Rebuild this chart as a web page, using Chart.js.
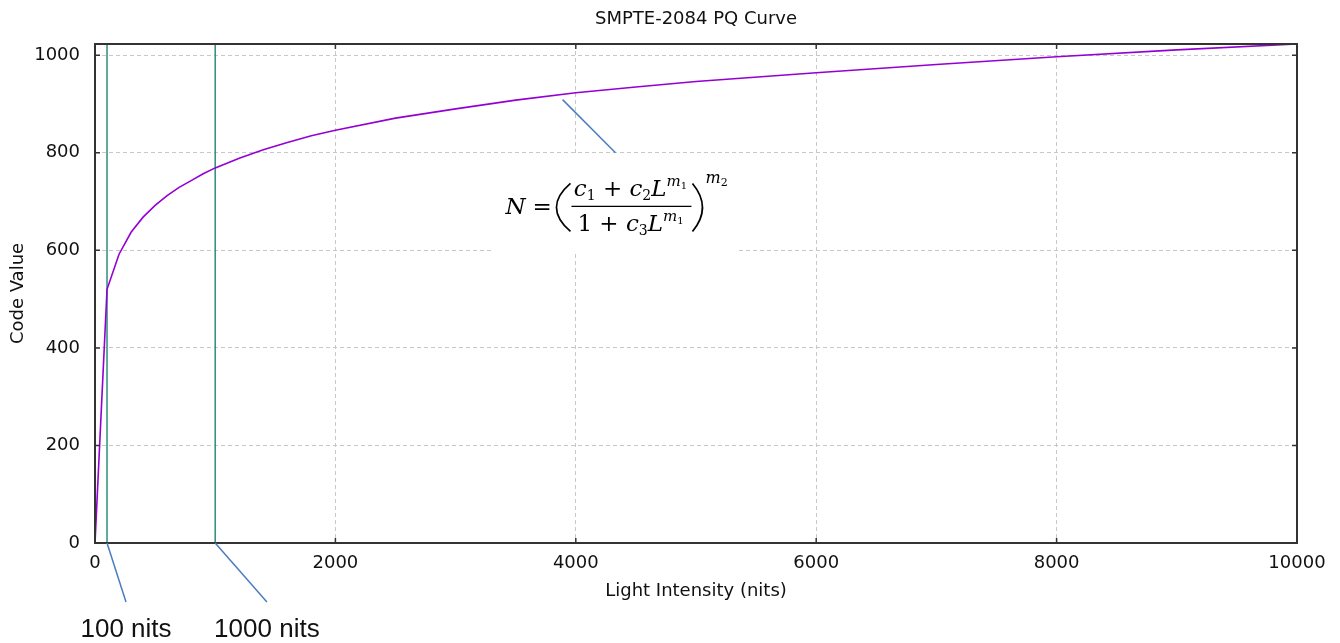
<!DOCTYPE html>
<html>
<head>
<meta charset="utf-8">
<script src="https://cdn.jsdelivr.net/npm/chart.js@4/dist/chart.umd.min.js"></script>
<style>
  body { margin: 0; background: #fff; }
  canvas { display: block; }
</style>
</head>
<body>
<canvas id="pqChart" width="1340" height="643"></canvas>
<script>
// PQ curve samples (nits -> 10-bit code value)
const nits = [0, 100, 200, 300, 400, 500, 600, 700, 800, 900, 1000, 1200, 1400, 1600, 1800,
  2000, 2500, 3000, 3500, 4000, 4500, 5000, 6000, 7000, 8000, 9000, 10000];
const codeValues = [0, 520, 592, 637, 668, 692, 712, 729, 743, 757, 769, 789, 806, 821, 835,
  846, 871, 890, 908, 923, 935, 946, 964, 981, 997, 1011, 1023];

// axis ticks
const xTicks = [0, 2000, 4000, 6000, 8000, 10000];
const yTicks = [0, 200, 400, 600, 800, 1000];

// reference luminance markers
const markerNits = [100, 1000];
const markerLabels = ['100 nits', '1000 nits'];

// callout leader lines, in data units [x, y]
const leaderFrom = [[3890, 909], [100, 0], [1000, 0]];
const leaderTo = [[4330, 800], [258, -121], [1430, -121]];

// equation anchor (data units)
const eqAnchor = [4330, 690];

const fontUI = '"DejaVu Sans", Tahoma, sans-serif';
Chart.defaults.color = '#111';
Chart.defaults.font.family = fontUI;

const curvePoints = nits.map((n, i) => ({ x: n, y: codeValues[i] }));
const markerSets = markerNits.map(n => ({
  data: [{ x: n, y: 0 }, { x: n, y: 1023 }],
  borderColor: '#2b8f78',
  borderWidth: 1.5,
  pointRadius: 0
}));

const mathFont = '"DejaVu Serif", "Liberation Serif", serif';

function drawRuns(ctx, parts, x, y, measureOnly) {
  let w = 0;
  for (const [txt, size, style, dy] of parts) {
    ctx.font = style + ' ' + size + 'px ' + mathFont;
    if (!measureOnly) ctx.fillText(txt, x + w, y + dy);
    w += ctx.measureText(txt).width;
  }
  return w;
}

const numer = [['c', 23, 'italic', 0], ['1', 14, 'normal', 4], [' + ', 23, 'normal', 0],
  ['c', 23, 'italic', 0], ['2', 14, 'normal', 4], ['L', 23, 'italic', 0],
  ['m', 15, 'italic', -10], ['1', 10, 'normal', -7]];
const denom = [['1', 23, 'normal', 0], [' + ', 23, 'normal', 0], ['c', 23, 'italic', 0],
  ['3', 14, 'normal', 4], ['L', 23, 'italic', 0], ['m', 15, 'italic', -10], ['1', 10, 'normal', -7]];
const expo = [['m', 16, 'italic', 0], ['2', 11, 'normal', 3]];

function paren(ctx, x0, xm, ax, ay) {
  ctx.beginPath();
  ctx.moveTo(ax + x0, ay - 23);
  ctx.quadraticCurveTo(ax + 2 * xm - x0, ay + 1, ax + x0, ay + 25);
  ctx.stroke();
}

const extrasPlugin = {
  id: 'extras',
  afterDatasetsDraw(chart) {
    const { ctx, chartArea: a, scales: { x, y } } = chart;
    ctx.save();

    // frame with inward ticks
    ctx.strokeStyle = '#333';
    ctx.lineWidth = 2;
    ctx.strokeRect(a.left, a.top, a.right - a.left, a.bottom - a.top);
    ctx.lineWidth = 1.5;
    ctx.beginPath();
    xTicks.forEach(v => {
      const px = x.getPixelForValue(v);
      ctx.moveTo(px, a.top); ctx.lineTo(px, a.top + 5);
      ctx.moveTo(px, a.bottom); ctx.lineTo(px, a.bottom - 5);
    });
    yTicks.forEach(v => {
      const py = y.getPixelForValue(v);
      ctx.moveTo(a.left, py); ctx.lineTo(a.left + 5, py);
      ctx.moveTo(a.right, py); ctx.lineTo(a.right - 5, py);
    });
    ctx.stroke();

    // leader lines
    ctx.strokeStyle = '#4a7cc0';
    ctx.lineWidth = 1.5;
    leaderFrom.forEach((f, i) => {
      const t = leaderTo[i];
      ctx.beginPath();
      ctx.moveTo(x.getPixelForValue(f[0]), y.getPixelForValue(f[1]));
      ctx.lineTo(x.getPixelForValue(t[0]), y.getPixelForValue(t[1]));
      ctx.stroke();
    });

    // marker labels under the leaders
    ctx.fillStyle = '#111';
    ctx.font = '26px "Liberation Sans", Arial, sans-serif';
    ctx.textAlign = 'center';
    ctx.textBaseline = 'middle';
    markerLabels.forEach((lbl, i) => {
      const t = leaderTo[i + 1];
      ctx.fillText(lbl, x.getPixelForValue(t[0]), y.getPixelForValue(t[1]) + 28);
    });

    // equation box
    const ax = x.getPixelForValue(eqAnchor[0]);
    const ay = y.getPixelForValue(eqAnchor[1]);
    ctx.fillStyle = '#fff';
    ctx.fillRect(ax - 123, ay - 51, 244, 96);
    ctx.fillStyle = '#000';
    ctx.textAlign = 'left';
    ctx.textBaseline = 'alphabetic';
    drawRuns(ctx, [['N', 23, 'italic', 0]], ax - 110, ay + 8);
    drawRuns(ctx, [['=', 23, 'normal', 0]], ax - 83, ay + 8);
    ctx.strokeStyle = '#000';
    ctx.lineWidth = 1.7;
    paren(ctx, -45, -59, ax, ay);
    paren(ctx, 77, 87, ax, ay);
    const nw = drawRuns(ctx, numer, 0, 0, true);
    drawRuns(ctx, numer, ax + 15 - nw / 2, ay - 10);
    const dw = drawRuns(ctx, denom, 0, 0, true);
    drawRuns(ctx, denom, ax + 15 - dw / 2, ay + 25);
    ctx.lineWidth = 1.3;
    ctx.beginPath();
    ctx.moveTo(ax - 44, ay); ctx.lineTo(ax + 76, ay);
    ctx.stroke();
    drawRuns(ctx, expo, ax + 90, ay - 23);

    ctx.restore();
  }
};

const gridStyle = {
  color: '#c8c8c8',
  lineWidth: 1,
  drawTicks: false
};

const plainNumber = v => String(Math.round(v));

new Chart(document.getElementById('pqChart'), {
  type: 'line',
  data: {
    datasets: [{
      label: 'PQ',
      data: curvePoints,
      borderColor: '#9400d3',
      borderWidth: 1.6,
      pointRadius: 0,
      tension: 0
    }, ...markerSets]
  },
  options: {
    responsive: false,
    animation: false,
    layout: { padding: { left: 0, right: 43, top: 0, bottom: 0 } },
    plugins: {
      legend: { display: false },
      tooltip: { enabled: false },
      title: {
        display: true,
        text: 'SMPTE-2084 PQ Curve',
        fullSize: false,
        color: '#111',
        font: { size: 18, weight: 'normal', lineHeight: 1.2 },
        padding: { top: 9, bottom: 13.4 }
      }
    },
    scales: {
      x: {
        type: 'linear',
        min: 0,
        max: 10000,
        border: { display: false, dash: [4, 3] },
        grid: gridStyle,
        ticks: { autoSkip: false, padding: 10, font: { size: 18 }, maxRotation: 0, callback: plainNumber },
        afterBuildTicks(s) { s.ticks = xTicks.map(v => ({ value: v })); },
        title: {
          display: true,
          text: 'Light Intensity (nits)',
          font: { size: 18 },
          padding: { top: 0, bottom: 41 }
        },
        afterFit(s) { s.height = 100; }
      },
      y: {
        type: 'linear',
        min: 0,
        max: 1023,
        border: { display: false, dash: [4, 3] },
        grid: gridStyle,
        ticks: { autoSkip: false, padding: 15, font: { size: 18 }, callback: plainNumber },
        afterBuildTicks(s) { s.ticks = yTicks.map(v => ({ value: v })); },
        title: {
          display: true,
          text: 'Code Value',
          font: { size: 18 },
          padding: { top: 8, bottom: 0 }
        },
        afterFit(s) { s.width = 95; }
      }
    }
  },
  plugins: [extrasPlugin]
});
</script>
</body>
</html>
